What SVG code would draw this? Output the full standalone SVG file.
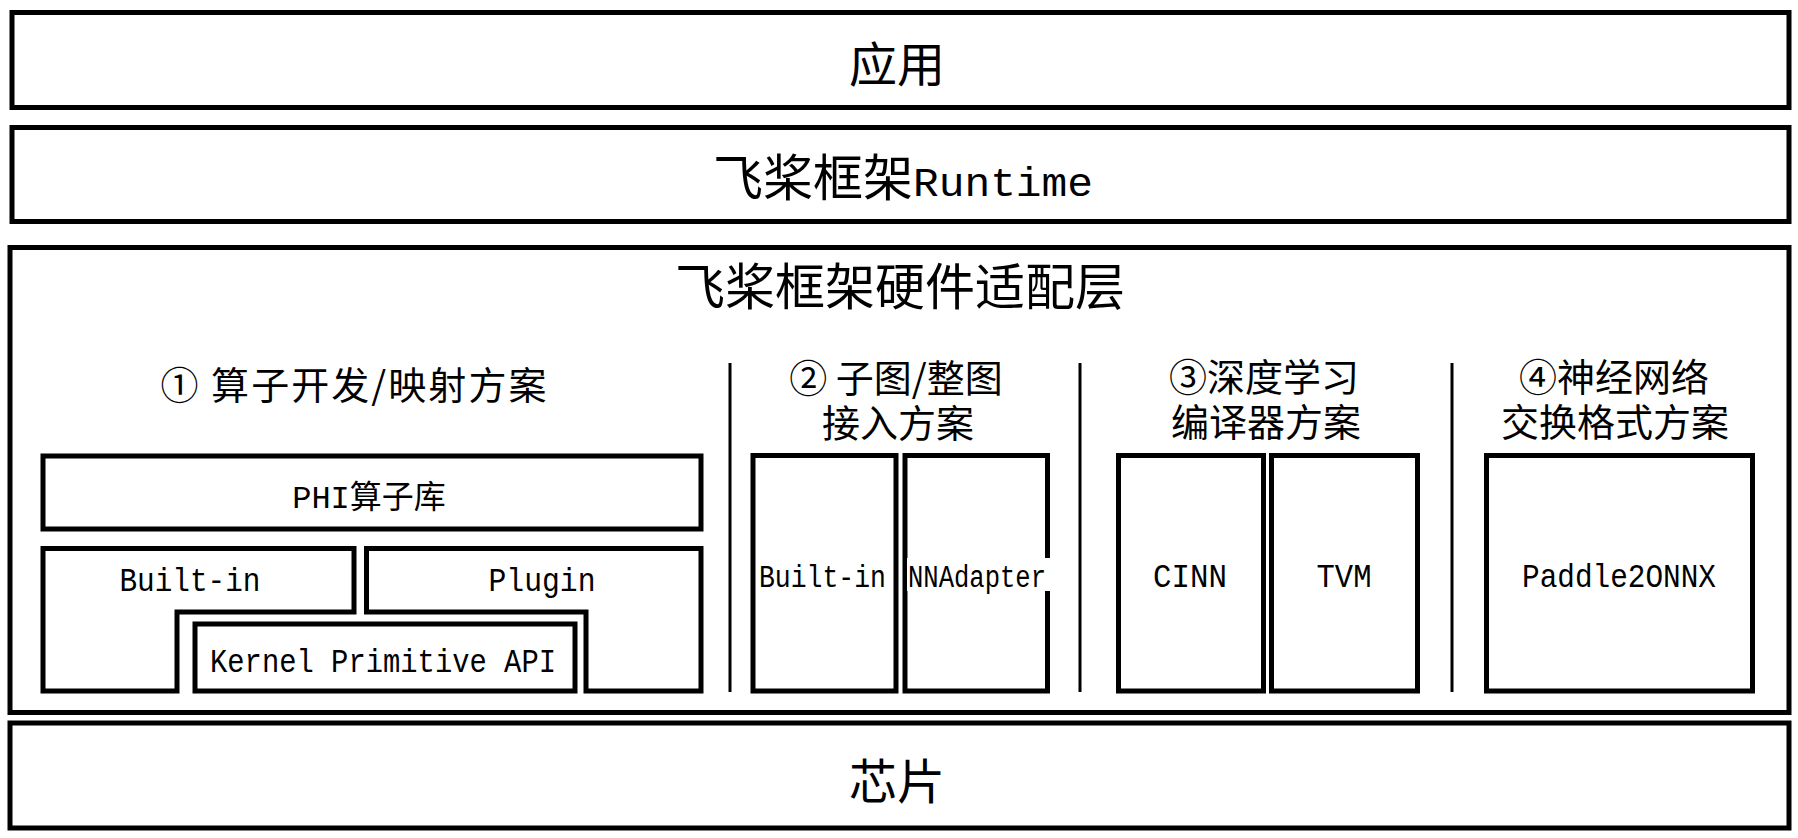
<svg xmlns="http://www.w3.org/2000/svg" width="1798" height="838" viewBox="0 0 1798 838">
<style>
.box{fill:#fff;stroke:#000;stroke-width:5}
.div{stroke:#000;stroke-width:3}
.cjk{font-family:"Noto Sans CJK SC","Noto Sans CJK JP",sans-serif;fill:#000}
.mono{font-family:"Liberation Mono","Noto Sans CJK SC",monospace;fill:#000}
.big{font-size:48px}
.sec{font-size:38px}
.lbl{font-size:34px}
</style>
<rect width="1798" height="838" fill="#fff"/>
<g id="app">
<rect class="box" x="12" y="12.5" width="1777" height="95"/>
<text class="cjk big" x="897" y="82" text-anchor="middle">应用</text>
</g>
<g id="runtime">
<rect class="box" x="12" y="127.5" width="1777" height="94"/>
<text class="cjk" x="713" y="196" font-size="50"><tspan>飞桨框架</tspan><tspan x="913" class="mono" font-size="40" textLength="180" lengthAdjust="spacingAndGlyphs">Runtime</tspan></text>
</g>
<g id="adapter-layer">
<rect class="box" x="10" y="247.5" width="1779" height="465"/>
<text class="cjk" x="900" y="305" font-size="50" text-anchor="middle">飞桨框架硬件适配层</text>
</g>
<g id="connectors">
<line class="div" x1="730" y1="363" x2="730" y2="692"/>
<line class="div" x1="1080" y1="363" x2="1080" y2="692"/>
<line class="div" x1="1452" y1="363" x2="1452" y2="692"/>
</g>
<g id="scheme1">
<text class="cjk sec" x="353.5" y="399" text-anchor="middle" textLength="386">① 算子开发/映射方案</text>
</g>
<g id="phi">
<rect class="box" x="43" y="456" width="658" height="73"/>
<text class="mono" x="369" y="508" font-size="32" text-anchor="middle">PHI算子库</text>
</g>
<g id="builtin1">
<path class="box" d="M43,548.5 H354 V612 H177 V691 H43 Z"/>
<text class="mono lbl" x="190" y="591" text-anchor="middle" textLength="141" lengthAdjust="spacingAndGlyphs">Built-in</text>
</g>
<g id="plugin">
<path class="box" d="M366.5,548.5 H701 V691 H586 V612 H366.5 Z"/>
<text class="mono lbl" x="542" y="591" text-anchor="middle" textLength="107" lengthAdjust="spacingAndGlyphs">Plugin</text>
</g>
<g id="kpapi">
<rect class="box" x="195" y="624" width="380" height="67"/>
<text class="mono lbl" x="383" y="672" text-anchor="middle" textLength="346" lengthAdjust="spacingAndGlyphs">Kernel Primitive API</text>
</g>
<g id="scheme2">
<text class="cjk sec" text-anchor="middle"><tspan x="896" y="392">② 子图/整图</tspan><tspan x="898" y="437">接入方案</tspan></text>
</g>
<g id="builtin2">
<rect class="box" x="753" y="455.5" width="143" height="235.5"/>
<text class="mono" x="822.5" y="587" font-size="31" text-anchor="middle" textLength="127" lengthAdjust="spacingAndGlyphs">Built-in</text>
</g>
<g id="nnadapter">
<rect class="box" x="905" y="455.5" width="142.5" height="235.5"/>
<rect x="907" y="558" width="146" height="33" fill="#fff"/>
<text class="mono" x="977" y="587" font-size="31" text-anchor="middle" textLength="138" lengthAdjust="spacingAndGlyphs">NNAdapter</text>
</g>
<g id="scheme3">
<text class="cjk sec" text-anchor="middle"><tspan x="1264" y="391">③深度学习</tspan><tspan x="1266" y="436">编译器方案</tspan></text>
</g>
<g id="cinn">
<rect class="box" x="1118.5" y="455.5" width="145" height="235.5"/>
<text class="mono lbl" x="1190" y="587" text-anchor="middle" textLength="74" lengthAdjust="spacingAndGlyphs">CINN</text>
</g>
<g id="tvm">
<rect class="box" x="1271.5" y="455.5" width="146" height="235.5"/>
<text class="mono lbl" x="1344" y="587" text-anchor="middle" textLength="55" lengthAdjust="spacingAndGlyphs">TVM</text>
</g>
<g id="scheme4">
<text class="cjk sec" text-anchor="middle"><tspan x="1614" y="391">④神经网络</tspan><tspan x="1615" y="436">交换格式方案</tspan></text>
</g>
<g id="paddle2onnx">
<rect class="box" x="1486.5" y="455.5" width="266" height="235.5"/>
<text class="mono lbl" x="1619" y="587" text-anchor="middle" textLength="194" lengthAdjust="spacingAndGlyphs">Paddle2ONNX</text>
</g>
<g id="chip">
<rect class="box" x="10" y="723" width="1779" height="105"/>
<text class="cjk big" x="897" y="799" text-anchor="middle">芯片</text>
</g>
</svg>
